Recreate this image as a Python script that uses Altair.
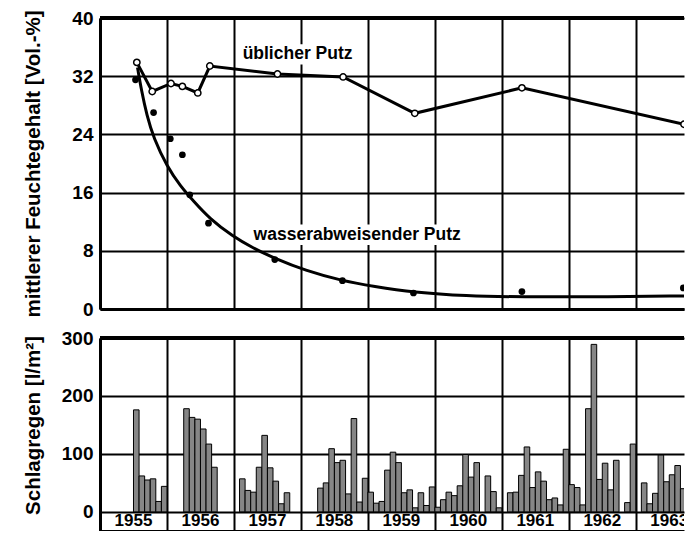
import altair as alt
import pandas as pd

FONT = "Liberation Sans"

# ---- top panel data (mittlerer Feuchtegehalt) ----
usual_t = [1955.55, 1955.78, 1956.06, 1956.23, 1956.46, 1956.64, 1957.65, 1958.63, 1959.70, 1961.30, 1963.72]
usual_v = [33.9, 29.9, 31.0, 30.6, 29.7, 33.4, 32.3, 31.9, 26.9, 30.4, 25.4]

repel_t = [1955.53, 1955.80, 1956.05, 1956.23, 1956.34, 1956.62, 1957.61, 1958.62, 1959.68, 1961.30, 1963.71]
repel_v = [31.5, 27.0, 23.4, 21.2, 15.7, 11.8, 6.8, 3.9, 2.2, 2.4, 2.9]

curve_t = [1955.56, 1955.62, 1955.70, 1955.80, 1956.00, 1956.20, 1956.40, 1956.64, 1956.98, 1957.28, 1957.62,
           1958.06, 1958.60, 1959.09, 1959.68, 1960.46, 1961.30, 1962.44, 1963.72]
curve_v = [33.2, 30.0, 26.6, 23.5, 19.6, 16.9, 14.8, 12.4, 10.0, 8.4, 6.9, 5.3, 3.9, 3.1, 2.3, 1.8, 1.65, 1.65, 1.8]

label_text = ["üblicher Putz", "wasserabweisender Putz"]
label_t = [1957.95, 1958.84]
label_v = [35.0, 10.2]
label_half_w = [0.84, 1.56]
label_half_h = [1.4, 1.4]

# ---- bottom panel data (Schlagregen, monthly) ----
years = [1955, 1956, 1957, 1958, 1959, 1960, 1961, 1962, 1963]
rain = {
    1955: [None, None, None, None, None, None, 176, 62, 55, 57, 18, 44],
    1956: [None, None, None, 178, 163, 160, 143, 117, 77, None, None, None],
    1957: [None, 57, 37, 34, 77, 132, 76, 53, 14, 33, None, None],
    1958: [None, None, None, 41, 50, 109, 85, 89, 31, 161, 17, 58],
    1959: [34, 15, 18, 72, 103, 85, 33, 38, 7, 33, 11, 43],
    1960: [8, 21, 34, 28, 45, 99, 60, 85, None, 62, 35, 7],
    1961: [None, 33, 34, 63, 112, 42, 69, 53, 21, 24, 12, 108],
    1962: [47, 42, 12, 178, 289, 56, 84, 38, 89, None, 16, 117],
    1963: [None, 50, 14, 32, 98, 52, 64, 80, 40, None, None, None],
}

X_DOMAIN = [1955, 1963.72]
W = 584

usual_df = pd.DataFrame({"t": usual_t, "v": usual_v})
repel_df = pd.DataFrame({"t": repel_t, "v": repel_v})
curve_df = pd.DataFrame({"t": curve_t, "v": curve_v})
lab_df = pd.DataFrame({"t": label_t, "v": label_v, "label": label_text})
bg_df = pd.DataFrame({
    "t": [a - b for a, b in zip(label_t, label_half_w)],
    "t2": [a + b for a, b in zip(label_t, label_half_w)],
    "v": [a - b for a, b in zip(label_v, label_half_h)],
    "v2": [a + b for a, b in zip(label_v, label_half_h)],
})

rows = []
for y in years:
    for m, val in enumerate(rain[y]):
        if val is not None:
            rows.append({"t": y + m / 12, "t2": y + (m + 1) / 12, "v": val, "v0": 0})
rain_df = pd.DataFrame(rows)
year_df = pd.DataFrame({"t": [y + 0.5 for y in years], "v": [-16.5] * len(years),
                        "label": [str(y) for y in years]})

xscale = alt.Scale(domain=X_DOMAIN, nice=False, zero=False)
x_axis = alt.Axis(values=years, labels=False, ticks=False, title=None, grid=True)

top_yscale = alt.Scale(domain=[0, 40], nice=False, zero=False)
top_yaxis = alt.Axis(values=[0, 8, 16, 24, 32, 40], title="mittlerer Feuchtegehalt [Vol.-%]",
                     titleX=-57, grid=True)

def tx(field="t"):
    return alt.X(f"{field}:Q", scale=xscale, axis=x_axis)

def ty(field="v"):
    return alt.Y(f"{field}:Q", scale=top_yscale, axis=top_yaxis)

top_bg = alt.Chart(bg_df).mark_rect(fill="white", stroke=None).encode(
    x=tx(), x2="t2:Q", y=ty(), y2="v2:Q")
top_usual = alt.Chart(usual_df).mark_line(color="black", strokeWidth=3, clip=True).encode(x=tx(), y=ty())
top_curve = alt.Chart(curve_df).mark_line(color="black", strokeWidth=3, interpolate="basis",
                                          clip=True).encode(x=tx(), y=ty())
top_dots = alt.Chart(repel_df).mark_circle(color="black", size=45, opacity=1, clip=True).encode(x=tx(), y=ty())
top_open = alt.Chart(usual_df).mark_point(shape="circle", filled=True, fill="white", stroke="black",
                                          strokeWidth=1.5, size=40, opacity=1, clip=True).encode(x=tx(), y=ty())
top_text = alt.Chart(lab_df).mark_text(font=FONT, fontWeight="bold", fontSize=17.5, color="black",
                                       align="center", baseline="middle").encode(
    x=tx(), y=ty(), text="label:N")
top_border = alt.Chart(usual_df).mark_rule(color="black", strokeWidth=3).encode(
    y=alt.Y(datum=40, scale=top_yscale, axis=top_yaxis))

top = alt.layer(top_bg, top_usual, top_curve, top_dots, top_open, top_text, top_border).properties(
    width=W, height=291)

bot_yscale = alt.Scale(domain=[-33, 300], nice=False, zero=False)
bot_yaxis = alt.Axis(values=[0, 100, 200, 300], title="Schlagregen [l/m²]", titleX=-57, titleY=87,
                     grid=True)

def by(field="v"):
    return alt.Y(f"{field}:Q", scale=bot_yscale, axis=bot_yaxis)

bars = alt.Chart(rain_df).mark_rect(fill="#868686", stroke="black", strokeWidth=1, clip=True).encode(
    x=tx(), x2="t2:Q", y=by(), y2="v0:Q")
year_text = alt.Chart(year_df).mark_text(font=FONT, fontWeight="bold", fontSize=17, color="black",
                                         align="center", baseline="middle", clip=True).encode(
    x=tx(), y=by(), text="label:N")
bot_border = alt.Chart(year_df).mark_rule(color="black", strokeWidth=3).encode(
    y=alt.Y(datum=300, scale=bot_yscale, axis=bot_yaxis))

bottom = alt.layer(bars, year_text, bot_border).properties(width=W, height=193)

chart = alt.vconcat(top, bottom, spacing=29, bounds="flush").properties(
    padding={"left": 14, "top": 1, "right": 0, "bottom": 0},
    background="white",
).configure_view(stroke=None).configure_axis(
    gridColor="black", gridWidth=2, gridOpacity=1,
    domainColor="black", domainWidth=3,
    labelFont=FONT, labelFontSize=19, labelFontWeight="bold", labelColor="black", labelPadding=7,
    titleFont=FONT, titleFontSize=20.5, titleFontWeight="bold", titleColor="black",
    ticks=False,
)

chart.save("out.html", embed_options={"renderer": "svg", "actions": False})
